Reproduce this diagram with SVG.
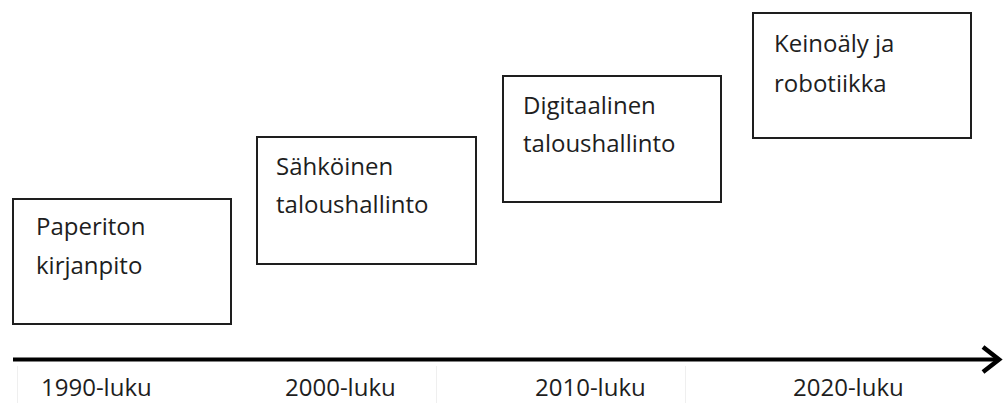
<svg xmlns="http://www.w3.org/2000/svg" width="1003" height="403" viewBox="0 0 1003 403">
<style>
.box{fill:#fff;stroke:#1e1e1e;stroke-width:2}
.t{font-family:"Open Sans","Liberation Sans",sans-serif;font-size:24px;fill:#1e1e1e}
.lab{font-family:"Open Sans","Liberation Sans",sans-serif;font-size:24px;fill:#1e1e1e}
.axis{stroke:#000;stroke-width:4;fill:none}
.grid{stroke:#efefef;stroke-width:1}
</style>
<rect width="1003" height="403" fill="#fff"/>
<g id="grid">
<line class="grid" x1="17.5" y1="366" x2="17.5" y2="403"/>
<line class="grid" x1="436.5" y1="366" x2="436.5" y2="403"/>
<line class="grid" x1="685.5" y1="366" x2="685.5" y2="403"/>
</g>
<g id="node1">
<rect class="box" x="13" y="199" width="218" height="125"/>
<text class="t" x="36" y="235">Paperiton</text>
<text class="t" x="36" y="274">kirjanpito</text>
</g>
<g id="node2">
<rect class="box" x="257" y="137" width="219" height="127"/>
<text class="t" x="276" y="175">Sähköinen</text>
<text class="t" x="276" y="213">taloushallinto</text>
</g>
<g id="node3">
<rect class="box" x="503" y="76" width="218" height="126"/>
<text class="t" x="523" y="114">Digitaalinen</text>
<text class="t" x="523" y="152">taloushallinto</text>
</g>
<g id="node4">
<rect class="box" x="753" y="13" width="218" height="125"/>
<text class="t" x="774" y="52">Keinoäly ja</text>
<text class="t" x="774" y="92">robotiikka</text>
</g>
<g id="connectors">
<line class="axis" x1="13" y1="359.5" x2="998" y2="359.5"/>
<path d="M983,347 L999,359.5 L983,372" fill="none" stroke="#000" stroke-width="4.5"/>
</g>
<g id="labels">
<text class="lab" x="41" y="396">1990-luku</text>
<text class="lab" x="285" y="396">2000-luku</text>
<text class="lab" x="535" y="396">2010-luku</text>
<text class="lab" x="793" y="396">2020-luku</text>
</g>
</svg>
